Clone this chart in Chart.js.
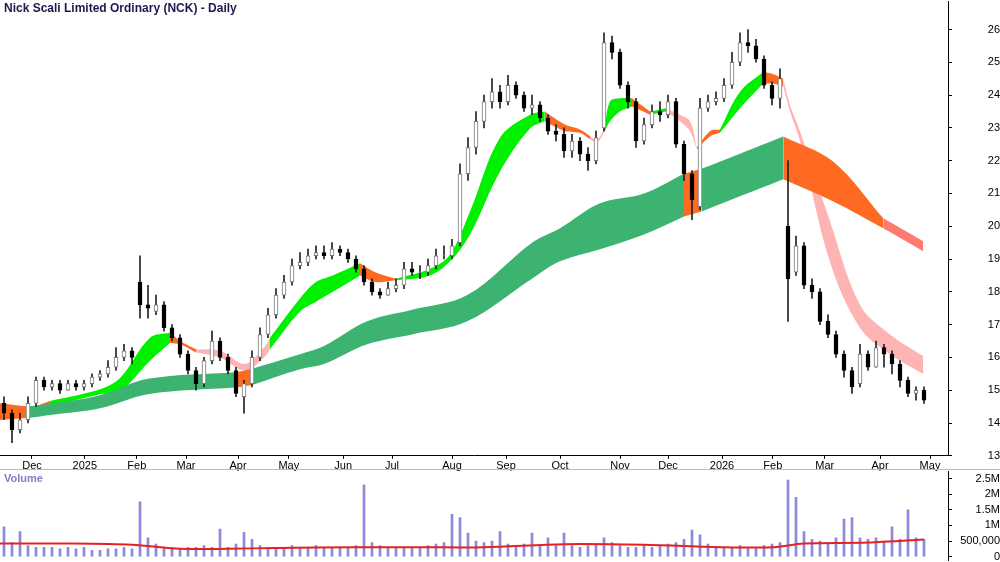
<!DOCTYPE html>
<html><head><meta charset="utf-8">
<script src="https://cdn.jsdelivr.net/npm/chart.js@4.4.0/dist/chart.umd.min.js"></script>
<style>
body{margin:0;background:#fff;width:1000px;height:562px;overflow:hidden;position:relative;font-family:"Liberation Sans",Arial,sans-serif}
#t{position:absolute;left:4px;top:1px;font-size:12px;font-weight:bold;color:#1a1a50}
#v{position:absolute;left:4px;top:472px;font-size:11px;font-weight:bold;color:#8080c8}
#c1{position:absolute;left:0;top:-7px}
#c2{position:absolute;left:0;top:463px}
#sep{position:absolute;left:0;top:469px;width:1000px;height:1px;background:#bbb}
</style></head><body>
<canvas id="c1" width="1000" height="481"></canvas>
<canvas id="c2" width="1000" height="106"></canvas>
<div id="sep"></div>
<div id="t">Nick Scali Limited Ordinary (NCK) - Daily</div>
<div id="v">Volume</div>
<script>
const openP=[14.6,14.3,13.8,14.1,14.6,15.3,15.1,15.2,15.0,15.2,15.1,15.2,15.4,15.5,15.7,16.0,16.2,18.3,17.6,17.4,17.6,16.9,16.6,16.1,15.6,15.2,15.9,16.5,16.0,15.6,14.8,15.2,16.0,16.7,17.3,17.9,18.3,18.8,18.9,19.1,19.2,19.1,19.3,19.2,19.0,18.7,18.3,18.0,17.9,18.1,18.2,18.7,18.6,18.6,18.8,19.1,19.1,19.5,21.6,22.4,23.2,23.8,24.1,23.8,24.3,24.0,23.6,23.7,23.3,22.9,22.8,22.3,22.6,22.2,22.0,23.0,25.6,25.3,24.3,23.8,22.6,23.1,23.5,23.4,23.8,22.5,21.6,20.6,23.6,23.8,23.9,24.3,25.0,25.6,25.5,25.1,24.3,23.9,20.0,18.6,19.4,18.2,18.0,17.1,16.7,16.1,15.6,15.2,16.1,15.7,16.3,16.1,15.8,15.3,14.9,15.0];
const highP=[14.8,14.4,14.3,14.8,15.4,15.4,15.3,15.3,15.3,15.3,15.3,15.5,15.6,15.9,16.3,16.4,16.3,19.1,18.2,17.9,17.7,17.0,16.7,16.2,15.7,16.0,16.8,16.6,16.1,15.7,15.3,16.2,16.9,17.5,18.1,18.5,19.0,19.2,19.3,19.4,19.4,19.5,19.4,19.3,19.1,18.8,18.4,18.1,18.3,18.4,18.9,18.9,18.8,19.0,19.3,19.4,19.6,21.9,22.7,23.5,24.0,24.5,24.3,24.6,24.4,24.1,24.0,23.8,23.4,23.1,23.0,22.8,22.7,22.4,22.9,25.9,25.8,25.4,24.4,23.9,23.3,23.7,23.8,24.0,23.9,22.6,21.7,23.9,24.0,24.1,24.5,25.3,25.9,26.0,25.7,25.2,24.4,24.8,22.0,19.7,19.5,18.4,18.1,17.3,16.8,16.2,15.7,16.4,16.2,16.5,16.4,16.2,15.9,15.4,15.1,15.1];
const lowP=[14.1,13.4,13.7,14.0,14.5,15.0,15.0,14.9,15.0,15.0,15.0,15.1,15.3,15.4,15.6,15.9,15.8,17.2,17.2,17.3,16.8,16.5,16.0,15.5,15.0,15.1,15.8,15.9,15.5,14.8,14.3,15.1,15.9,16.6,17.2,17.8,18.2,18.7,18.8,19.0,19.0,19.0,19.1,18.9,18.6,18.2,17.9,17.8,17.9,18.0,18.1,18.5,18.4,18.5,18.7,19.0,19.0,19.4,21.4,22.2,23.0,23.6,23.6,23.7,23.9,23.5,23.4,23.2,22.8,22.6,22.1,22.1,22.0,21.7,21.9,22.9,25.1,24.2,23.6,22.4,22.5,23.0,23.2,23.3,22.4,21.4,20.2,20.5,23.5,23.7,23.8,24.2,24.9,25.3,25.0,24.2,23.7,23.6,17.1,18.5,18.1,17.8,17.0,16.6,16.0,15.4,14.9,15.1,15.6,15.7,15.7,15.5,15.1,14.8,14.7,14.6];
const closeP=[14.3,13.8,14.1,14.6,15.3,15.1,15.2,15.0,15.2,15.1,15.2,15.4,15.5,15.7,16.0,16.2,16.0,17.6,17.5,17.6,16.9,16.6,16.1,15.6,15.2,15.9,16.5,16.0,15.6,14.9,15.2,16.0,16.7,17.3,17.9,18.3,18.8,18.9,19.1,19.2,19.1,19.3,19.2,19.0,18.7,18.3,18.0,17.9,18.1,18.2,18.7,18.6,18.6,18.8,19.1,19.1,19.4,21.6,22.4,23.2,23.8,24.1,23.8,24.3,24.0,23.6,23.7,23.3,22.9,22.8,22.3,22.6,22.2,22.0,22.7,25.6,25.3,24.3,23.8,22.6,23.1,23.5,23.4,23.8,22.5,21.6,20.8,23.6,23.8,23.9,24.3,25.0,25.6,25.5,25.1,24.3,23.9,24.5,18.4,19.4,18.2,18.0,17.1,16.7,16.1,15.6,15.1,16.1,15.7,16.3,16.1,15.8,15.3,14.9,15.0,14.7];
const volume=[950000,450000,800000,350000,300000,300000,300000,250000,300000,250000,300000,200000,200000,250000,250000,300000,250000,1750000,600000,400000,300000,300000,250000,300000,300000,350000,300000,880000,300000,400000,780000,550000,350000,300000,300000,300000,350000,300000,300000,350000,300000,300000,300000,300000,350000,2300000,450000,350000,300000,300000,300000,300000,300000,350000,400000,450000,1350000,1250000,750000,500000,450000,500000,800000,400000,350000,400000,750000,350000,600000,350000,750000,350000,300000,350000,400000,600000,450000,350000,300000,300000,350000,300000,350000,400000,450000,550000,850000,700000,400000,300000,300000,300000,350000,300000,300000,350000,400000,450000,2450000,1900000,800000,550000,500000,450000,600000,1200000,1250000,600000,550000,600000,500000,950000,550000,1500000,600000,550000];
const volAvg=[[-0.5,420000],[8,420000],[16,380000],[22,250000],[28,250000],[34,280000],[44,300000],[52,300000],[60,300000],[70,400000],[80,380000],[90,300000],[96,300000],[100,420000],[108,450000],[115,550000]];
const longBand=[[-0.5,14.6,14.1],[3,14.5,14.15],[6,14.6,14.25],[12,14.85,14.45],[18,15.35,14.88],[29,15.55,15.08],[30.9,15.65,15.15],[37,16.1,15.64],[40,16.35,15.8],[45.4,17.1,16.4],[51,17.45,16.7],[57.9,17.9,17.1],[66,19.5,18.4],[69.5,19.94,18.93],[74.5,20.7,19.3],[80,21.0,19.75],[85,21.6,20.3],[87.2,21.75,20.45],[97.4,22.74,21.43],[103.6,21.98,20.76],[109.9,20.24,19.94],[114.9,19.54,19.24]];
const shortBand=[[-0.5,14.4,14.1],[3,14.45,14.2],[5.75,14.67,14.5],[12,15.03,14.88],[14.5,15.37,14.97],[18.25,16.6,15.9],[20.75,16.75,16.44],[22,16.5,16.4],[24,16.25,16.15],[27,16.2,16.0],[30.1,15.8,15.6],[32.5,16.3,16.0],[33.25,16.6,16.25],[37,17.8,17.4],[39,18.3,17.7],[41.1,18.5,18.0],[44.5,18.87,18.5],[46.4,18.6,18.3],[49,18.4,18.35],[53.25,18.7,18.5],[55.75,19.14,18.93],[58.25,20.45,19.75],[62,22.7,21.67],[65.75,23.4,22.98],[67.6,23.5,23.2],[70.1,23.1,22.9],[72,22.95,22.85],[73.25,22.75,22.65],[74.1,22.62,22.55],[75.1,23.0,22.9],[75.75,23.8,23.2],[77,23.9,23.5],[78.5,23.9,23.65],[80.75,23.5,23.4],[82.75,23.6,23.5],[84.5,23.4,23.2],[85.75,23.2,22.9],[86.6,22.4,22.35],[88.25,22.9,22.74],[89.5,22.95,22.85],[92,24.1,23.6],[94.9,24.7,24.35],[96,24.65,24.35],[97.4,24.5,24.26],[98.25,23.7,23.5],[99.5,22.9,22.6],[103.25,20.15,18.9],[107,17.6,16.9],[110.75,16.7,16.1],[114.9,16.04,15.5]];
const longSeg=[[-0.5,3,'#ff6a22'],[3,29,'#3cb371'],[29,30.9,'#ff6a22'],[30.9,85,'#3cb371'],[85,87.2,'#ff6a22'],[87.2,97.4,'#3cb371'],[97.4,109.9,'#ff6a22'],[109.9,114.9,'#ff7a70']];
const shortSeg=[[-0.5,5.75,'#ff6a22'],[5.75,20.75,'#00f000'],[20.75,24,'#ff6a22'],[24,33.25,'#ffb4b4'],[33.25,44.5,'#00f000'],[44.5,49,'#ff6a22'],[49,67.6,'#00f000'],[67.6,73.25,'#ff6a22'],[73.25,75.1,'#ffb4b4'],[75.1,78.5,'#00f000'],[78.5,80.75,'#ff6a22'],[80.75,82.75,'#00f000'],[82.75,86.6,'#ffb4b4'],[86.6,89.5,'#ff6a22'],[89.5,94.9,'#00f000'],[94.9,97.4,'#ff6a22'],[97.4,114.9,'#ffb4b4']];
const monthPos=[3.5,10.1,16.6,22.75,29.25,35.6,42.4,48.5,56,62.75,69.5,77,83,89.75,96.1,102.6,109.5,115.75];
const monthLab=['Dec','2025','Feb','Mar','Apr','May','Jun','Jul','Aug','Sep','Oct','Nov','Dec','2026','Feb','Mar','Apr','May'];
const priceTicks=[13,14,15,16,17,18,19,20,21,22,23,24,25,26];
const volTicks=[0,500000,1000000,1500000,2000000,2500000];
const volLab=['0','500,000','1M','1.5M','2M','2.5M'];

const idx=closeP.map((_,i)=>i);
const ds=[];
function bands(pts,segs){
  segs.forEach(([a,b,c])=>{
    const p=pts.filter(q=>q[0]>=a-1e-9&&q[0]<=b+1e-9);
    ds.push({type:'line',data:p.map(q=>({x:q[0],y:q[1]})),borderWidth:0,pointRadius:0,tension:0.35,fill:false,order:10});
    ds.push({type:'line',data:p.map(q=>({x:q[0],y:q[2]})),borderWidth:0,pointRadius:0,tension:0.35,fill:'-1',backgroundColor:c,order:10});
  });
}
bands(longBand,longSeg);
bands(shortBand,shortSeg);
ds.push({type:'bar',data:idx.map(i=>({x:i,y:[lowP[i],highP[i]]})),backgroundColor:'#222',barThickness:1,grouped:false,order:2});
ds.push({type:'bar',data:idx.map(i=>({x:i,y:[Math.min(openP[i],closeP[i]),Math.max(openP[i],closeP[i])+0.0001]})),
  backgroundColor:idx.map(i=>closeP[i]>=openP[i]?'#fff':'#000'),
  borderColor:idx.map(i=>closeP[i]>=openP[i]?'#777':'#000'),borderWidth:1,borderSkipped:false,barThickness:4,grouped:false,order:1});

const rightW={afterFit(s){s.width=52;}};
new Chart(document.getElementById('c1'),{
  data:{datasets:ds},
  options:{responsive:false,animation:false,devicePixelRatio:1,layout:{padding:0},
    plugins:{legend:{display:false},tooltip:{enabled:false}},
    scales:{
      x:{type:'linear',min:-0.5,max:118,offset:false,
        afterBuildTicks(s){s.ticks=monthPos.map(v=>({value:v}));},
        ticks:{autoSkip:false,maxRotation:0,font:{size:11,family:'Liberation Sans'},color:'#000',padding:1,
          callback:(v)=>{const k=monthPos.indexOf(v);return k>=0?monthLab[k]:'';}},
        grid:{drawOnChartArea:false,tickLength:3,color:'#000',offset:false},border:{color:'#000'}},
      y:{position:'right',min:13,max:26.85,...rightW,
        afterBuildTicks(s){s.ticks=priceTicks.map(v=>({value:v}));},
        ticks:{autoSkip:false,font:{size:11,family:'Liberation Sans'},color:'#000',crossAlign:'far',padding:2},
        grid:{drawOnChartArea:false,tickLength:4,color:'#000'},border:{color:'#000'}}
    }}
});

new Chart(document.getElementById('c2'),{
  data:{datasets:[
    {type:'line',data:volAvg.map(q=>({x:q[0],y:q[1]})),borderColor:'#e82020',borderWidth:2,pointRadius:0,tension:0.3,order:1},
    {type:'bar',data:idx.map(i=>({x:i,y:volume[i]})),backgroundColor:'#8a8ad8',barThickness:2,order:2}
  ]},
  options:{responsive:false,animation:false,devicePixelRatio:1,layout:{padding:0},
    plugins:{legend:{display:false},tooltip:{enabled:false}},
    scales:{
      x:{type:'linear',min:-0.5,max:118,offset:false,display:false},
      y:{position:'right',min:-120000,max:2720000,...rightW,
        afterBuildTicks(s){s.ticks=volTicks.map(v=>({value:v}));},
        ticks:{autoSkip:false,font:{size:11,family:'Liberation Sans'},color:'#000',crossAlign:'far',padding:2,
          callback:(v)=>{const k=volTicks.indexOf(v);return k>=0?volLab[k]:'';}},
        grid:{drawOnChartArea:false,tickLength:4,color:'#000'},border:{color:'#000'}}
    }}
});
</script>
</body></html>
